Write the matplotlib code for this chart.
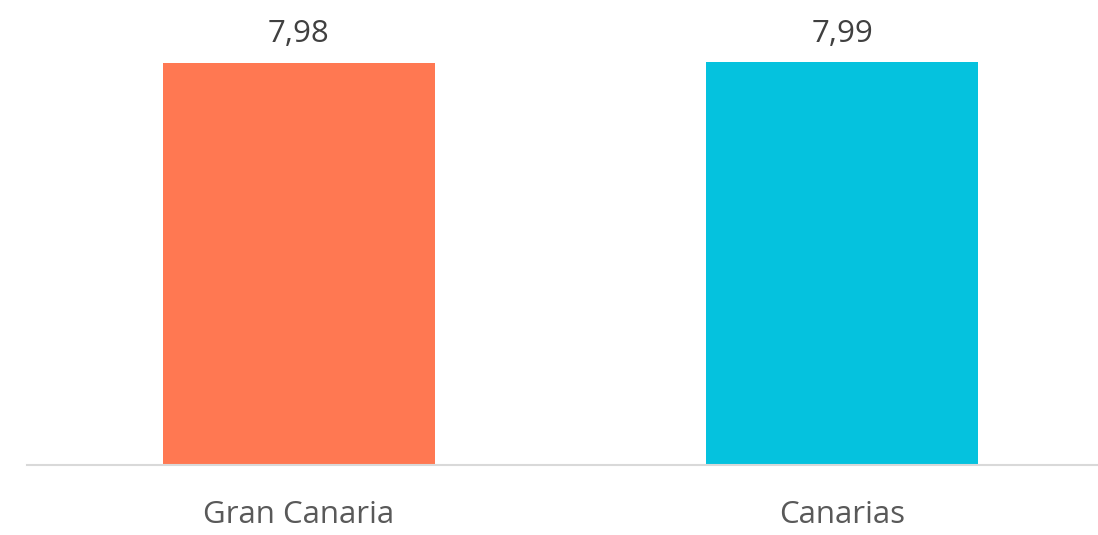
import matplotlib.pyplot as plt

categories = ['Gran Canaria', 'Canarias']
values = [7.98, 7.99]
labels = ['7,98', '7,99']
colors = ['#FF7852', '#05C2DE']

plt.rcParams['font.family'] = ['Open Sans', 'DejaVu Sans']

fig = plt.figure(figsize=(10.98, 5.35), dpi=100)
ax = fig.add_axes([27 / 1098, 70 / 535, 1087 / 1098, 465 / 535])

x = range(len(categories))
bars = ax.bar(x, values, width=0.5, color=colors)
for b, lab in zip(bars, labels):
    ax.annotate(lab, (b.get_x() + b.get_width() / 2, b.get_height()),
                xytext=(0, 10), textcoords='offset points',
                ha='center', va='bottom', fontsize=22.5, color='#404040')

ax.set_xlim(-0.5, 1.5)
ax.set_ylim(0, 9.23)
ax.set_xticks(list(x))
ax.set_xticklabels(categories, fontsize=22.5, color='#595959')
ax.tick_params(axis='x', length=0, pad=25)
ax.set_yticks([])
for s in ['top', 'right', 'left']:
    ax.spines[s].set_visible(False)
ax.spines['bottom'].set_color('#d9d9d9')
ax.spines['bottom'].set_linewidth(1.5)

fig.savefig('out.png', dpi=100)
